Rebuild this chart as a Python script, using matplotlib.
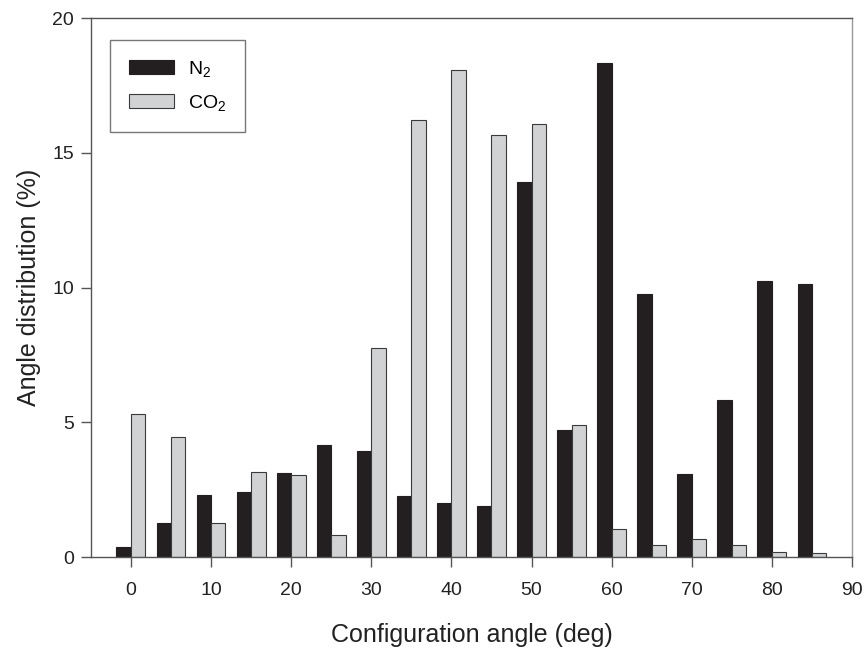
import matplotlib
matplotlib.use('Agg')
import matplotlib.pyplot as plt
import numpy as np

plt.rcParams['font.family'] = ['Liberation Sans', 'DejaVu Sans']
plt.rcParams['mathtext.default'] = 'regular'

# configuration angle bins (deg) and distributions (%)
angles = [0, 5, 10, 15, 20, 25, 30, 35, 40, 45, 50, 55, 60, 65, 70, 75, 80, 85]
n2 = [0.36, 1.25, 2.30, 2.42, 3.10, 4.16, 3.95, 2.26, 1.99, 1.88, 13.92, 4.73,
      18.32, 9.78, 3.07, 5.81, 10.26, 10.15]
co2 = [5.29, 4.45, 1.25, 3.16, 3.03, 0.82, 7.76, 16.22, 18.08, 15.68, 16.06, 4.90,
       1.05, 0.44, 0.67, 0.45, 0.20, 0.16]
xticks = [0, 10, 20, 30, 40, 50, 60, 70, 80, 90]
yticks = [0, 5, 10, 15, 20]

fig = plt.figure(figsize=(8.65, 6.48), dpi=100)
ax = fig.add_axes([0.105, 0.1404, 0.88, 0.8316])

x = np.array(angles)
w = 1.8
ax.bar(x - w / 2, n2, width=w, color='#231f20', edgecolor='#231f20', linewidth=0.8, label='N$_2$')
ax.bar(x + w / 2, co2, width=w, color='#d0d2d3', edgecolor='#3a3a3a', linewidth=0.8, label='CO$_2$')

ax.set_xlim(-5, 90)
ax.set_ylim(0, 20)
ax.set_xticks(xticks)
ax.set_yticks(yticks)
ax.tick_params(direction='out', length=7, width=1, colors='#555555', labelsize=14,
               labelcolor='#222222')
ax.tick_params(axis='x', pad=11)
ax.tick_params(axis='y', pad=5)
for s in ax.spines.values():
    s.set_color('#555555')
    s.set_linewidth(1)
ax.spines['right'].set_color('#999999')

ax.set_xlabel('Configuration angle (deg)', fontsize=18, color='#222222', labelpad=17)
ax.set_ylabel('Angle distribution (%)', fontsize=18, color='#222222', labelpad=8)

leg = ax.legend(loc='upper left', bbox_to_anchor=(0.025, 0.96), borderaxespad=0,
                fontsize=14, fancybox=False, edgecolor='#555555', handlelength=2.3,
                handleheight=0.75, borderpad=1.0, labelspacing=0.7, handletextpad=0.7)
leg.get_frame().set_linewidth(1)

fig.savefig('out.png', dpi=100)
